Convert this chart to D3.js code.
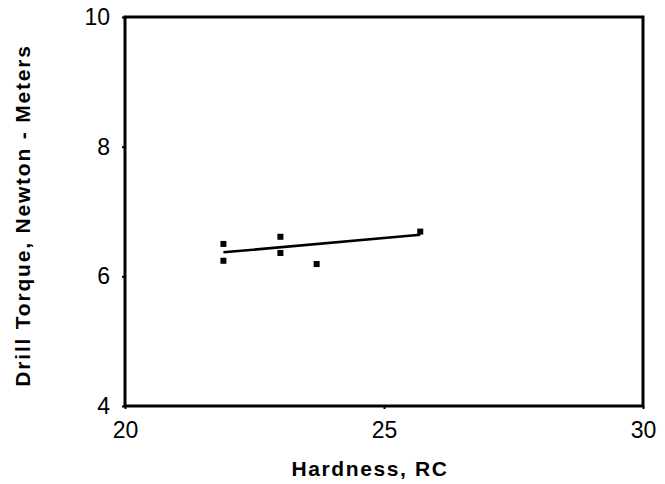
<!DOCTYPE html>
<html>
<head>
<meta charset="utf-8">
<script src="https://cdn.jsdelivr.net/npm/d3@7"></script>
<style>
  body { margin: 0; background: #fff; }
  svg { font-family: "Liberation Sans", Arial, sans-serif; }
</style>
</head>
<body>
<svg id="chart" width="665" height="484"></svg>
<script>
// data
const hardness = [21.9, 21.9, 23.0, 23.0, 23.7, 25.7];
const torque   = [6.50, 6.24, 6.61, 6.36, 6.19, 6.69];
const fitX = [21.9, 25.7];
const fitY = [6.37, 6.64];
const xTicks = [20, 25, 30];
const yTicks = [4, 6, 8, 10];

const svg = d3.select("#chart");
const margin = { top: 17, right: 22, bottom: 78, left: 125 };
const width = 665 - margin.left - margin.right;
const height = 484 - margin.top - margin.bottom;

const x = d3.scaleLinear().domain([20, 30]).range([0, width]);
const y = d3.scaleLinear().domain([4, 10]).range([height, 0]);

const g = svg.append("g").attr("transform", `translate(${margin.left},${margin.top})`);

// axes: small outward ticks, labels
const xAxis = g.append("g")
    .attr("transform", `translate(0,${height})`)
    .call(d3.axisBottom(x).tickValues(xTicks).tickFormat(d3.format("d")).tickSize(3).tickPadding(13));
const yAxis = g.append("g")
    .call(d3.axisLeft(y).tickValues(yTicks).tickFormat(d3.format("d")).tickSize(3).tickPadding(12));
[xAxis, yAxis].forEach(a => {
    a.select(".domain").remove();
    a.selectAll("line").attr("stroke", "#000").attr("stroke-width", 2);
    a.selectAll("text")
        .style("font-size", "23px")
        .style("font-family", "Liberation Sans, Arial, sans-serif")
        .attr("fill", "#000");
});

// frame
g.append("rect")
    .attr("width", width)
    .attr("height", height)
    .attr("fill", "none")
    .attr("stroke", "#000")
    .attr("stroke-width", 3);

// regression line
g.append("line")
    .attr("x1", x(fitX[0])).attr("y1", y(fitY[0]))
    .attr("x2", x(fitX[1])).attr("y2", y(fitY[1]))
    .attr("stroke", "#000")
    .attr("stroke-width", 2.5);

// points
const pts = hardness.map((h, i) => ({ x: h, y: torque[i] }));
g.selectAll(".pt")
    .data(pts)
    .enter()
    .append("rect")
    .attr("class", "pt")
    .attr("x", d => x(d.x) - 3)
    .attr("y", d => y(d.y) - 3)
    .attr("width", 6)
    .attr("height", 6)
    .attr("fill", "#000");

// axis titles
svg.append("text")
    .attr("x", margin.left + width / 2 - 14)
    .attr("y", 476)
    .attr("text-anchor", "middle")
    .style("font-size", "21px")
    .style("font-weight", "bold")
    .style("letter-spacing", "1.6px")
    .text("Hardness, RC");

svg.append("text")
    .attr("transform", `translate(30,${margin.top + height / 2 + 4}) rotate(-90)`)
    .attr("text-anchor", "middle")
    .style("font-size", "21px")
    .style("font-weight", "bold")
    .style("letter-spacing", "1.8px")
    .text("Drill Torque, Newton - Meters");
</script>
</body>
</html>
